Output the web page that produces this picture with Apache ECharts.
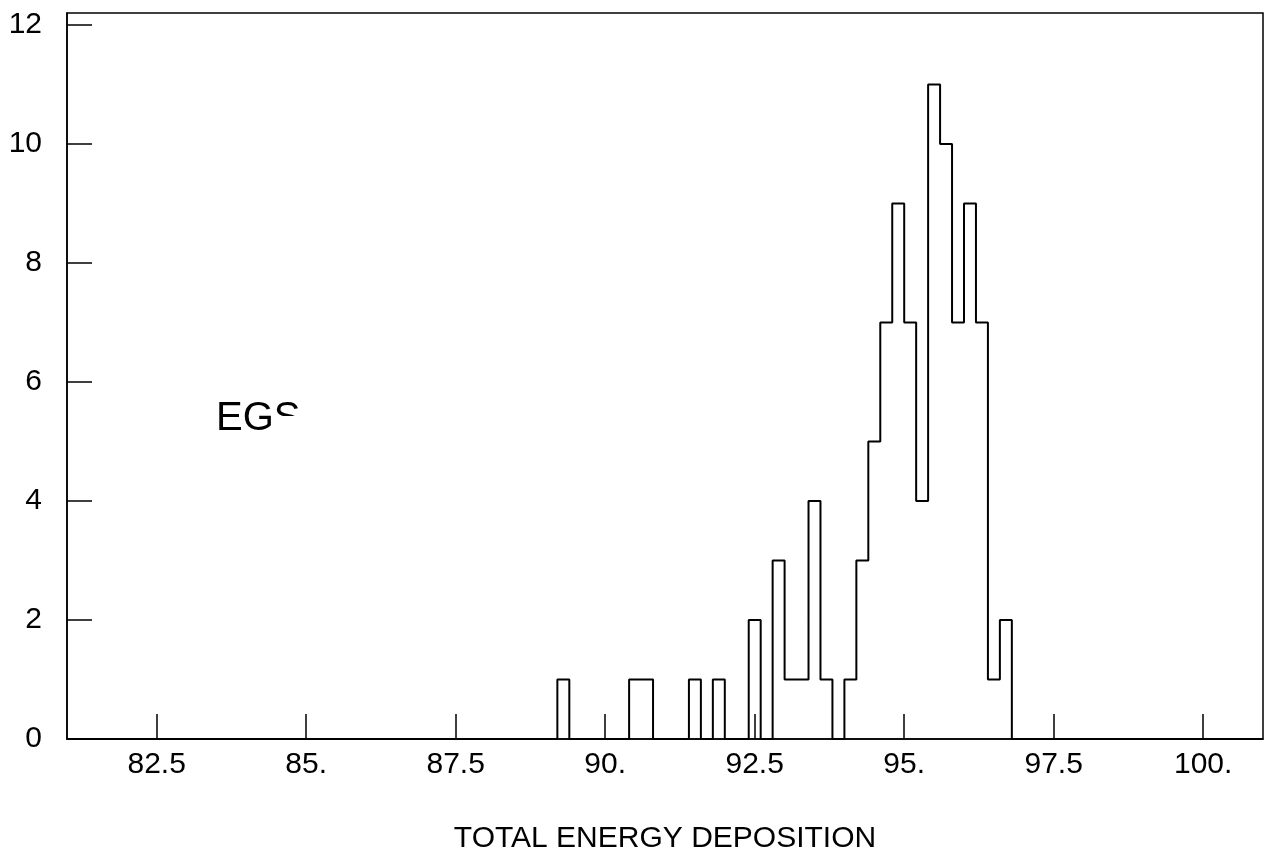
<!DOCTYPE html>
<html>
<head>
<meta charset="utf-8">
<script src="https://cdn.jsdelivr.net/npm/echarts@6/dist/echarts.min.js"></script>
<style>
html,body{margin:0;padding:0;background:#fff;}
#chart{width:1274px;height:862px;}
</style>
</head>
<body>
<div id="chart"></div>
<script>
// Tick values and labels
const xTickValues = [82.5, 85, 87.5, 90, 92.5, 95, 97.5, 100];
const xTickLabels = ['82.5', '85.', '87.5', '90.', '92.5', '95.', '97.5', '100.'];
const yTickValues = [0, 2, 4, 6, 8, 10, 12];
const yTickLabels = ['0', '2', '4', '6', '8', '10', '12'];

// Histogram bins (lower edges, bin width 0.2) and counts
const binLow = [89.0, 89.2, 89.4, 89.6, 89.8, 90.0, 90.2, 90.4, 90.6, 90.8,
                91.0, 91.2, 91.4, 91.6, 91.8, 92.0, 92.2, 92.4, 92.6, 92.8,
                93.0, 93.2, 93.4, 93.6, 93.8, 94.0, 94.2, 94.4, 94.6, 94.8,
                95.0, 95.2, 95.4, 95.6, 95.8, 96.0, 96.2, 96.4, 96.6, 96.8];
const counts = [0, 1, 0, 0, 0, 0, 0, 1, 1, 0,
                0, 0, 1, 0, 1, 0, 0, 2, 0, 3,
                1, 1, 4, 1, 0, 1, 3, 5, 7, 9,
                7, 4, 11, 10, 7, 9, 7, 1, 2, 0];
const xRange = [81, 101];
const histEnd = 97.0;
const xTitle = 'TOTAL ENERGY DEPOSITION';
const label = 'EGS';

const stepData = [[xRange[0], 0]];
binLow.forEach((x, i) => stepData.push([x, counts[i]]));
stepData.push([histEnd, 0]);
stepData.push([xRange[1], 0]);

const chart = echarts.init(document.getElementById('chart'), null, {renderer: 'canvas'});
const font = '"Liberation Sans", Arimo, Helvetica, Arial, sans-serif';
chart.setOption({
  animation: false,
  backgroundColor: '#fff',
  grid: {
    left: 67, right: 11, top: 13, bottom: 123,
    show: true, borderColor: '#000', borderWidth: 1.5, backgroundColor: 'transparent'
  },
  xAxis: {
    type: 'value',
    min: xRange[0], max: xRange[1],
    name: xTitle,
    nameLocation: 'middle',
    nameGap: 85,
    nameTextStyle: {fontFamily: font, fontSize: 30, color: '#000'},
    axisLine: {show: true, onZero: false, lineStyle: {color: '#000', width: 1.5}},
    axisTick: {show: true, inside: true, length: 25, customValues: xTickValues,
               lineStyle: {color: '#000', width: 1.5}},
    axisLabel: {
      show: true, customValues: xTickValues, margin: 11,
      fontFamily: font, fontSize: 30, color: '#000',
      formatter: v => { const i = xTickValues.indexOf(v); return i >= 0 ? xTickLabels[i] : ''; }
    },
    splitLine: {show: false}
  },
  yAxis: {
    type: 'value',
    min: 0, max: 12.2,
    axisLine: {show: true, onZero: false, lineStyle: {color: '#000', width: 1.5}},
    axisTick: {show: true, inside: true, length: 25, customValues: yTickValues,
               lineStyle: {color: '#000', width: 1.5}},
    axisLabel: {
      show: true, customValues: yTickValues, margin: 25,
      fontFamily: font, fontSize: 30, color: '#000',
      formatter: v => { const i = yTickValues.indexOf(v); return i >= 0 ? yTickLabels[i] : ''; }
    },
    splitLine: {show: false}
  },
  graphic: [
    {type: 'text', left: 216, top: 399, z: 10,
     style: {text: label, fontFamily: font, fontSize: 40, fill: '#000'}},
    {type: 'rect', left: 272, top: 416, z: 11,
     shape: {width: 34, height: 30}, style: {fill: '#fff'}}
  ],
  series: [{
    type: 'line',
    data: stepData,
    step: 'end',
    showSymbol: false,
    symbol: 'none',
    lineStyle: {color: '#000', width: 2},
    z: 5
  }]
});
</script>
</body>
</html>
